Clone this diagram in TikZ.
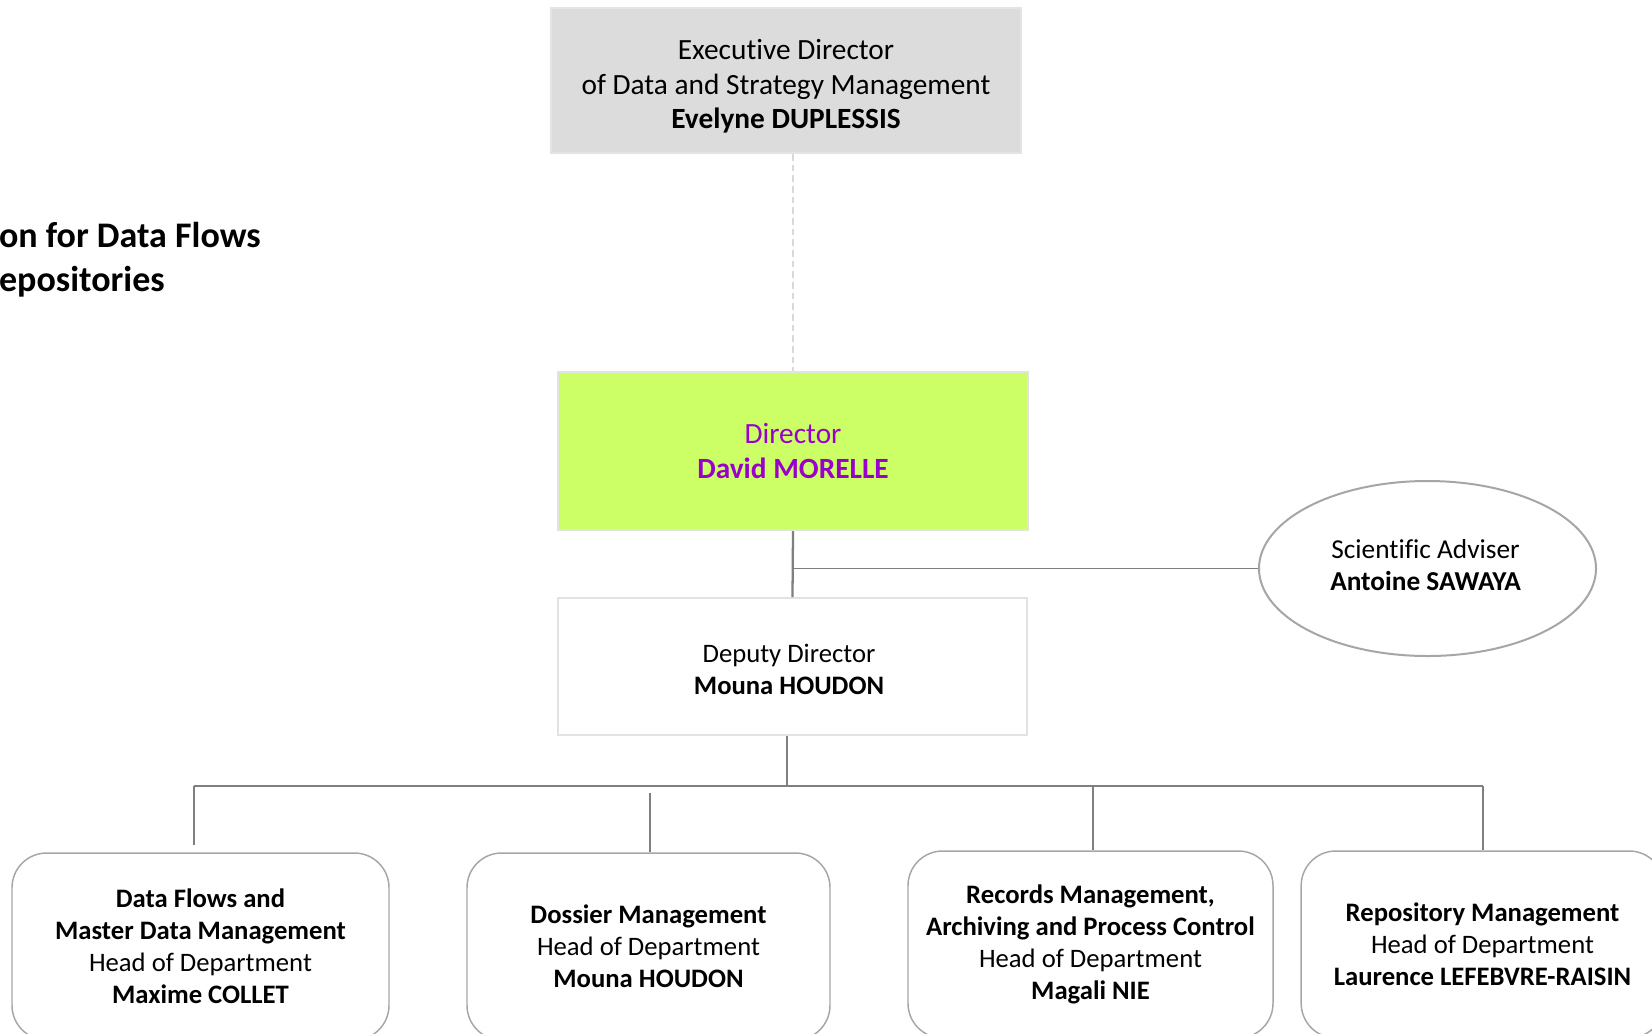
\documentclass[tikz,border=0pt]{standalone}
\usepackage{fontspec}
\setmainfont{Carlito}[Ligatures=NoCommon]
\usetikzlibrary{shapes.geometric}
\definecolor{execfill}{HTML}{DCDCDC}
\definecolor{execline}{HTML}{E4E4E4}
\definecolor{limefill}{HTML}{CCFF66}
\definecolor{boxline}{HTML}{E2E2E2}
\definecolor{dirtext}{HTML}{9900CC}
\definecolor{connline}{HTML}{7F7F7F}
\definecolor{dashgray}{HTML}{D9D9D9}
\definecolor{deptline}{HTML}{A6A6A6}
\tikzset{
  basebox/.style={draw, line width=1.5pt, inner sep=0pt, align=center},
  txtbig/.style={font=\fontsize{22}{26}\selectfont},
  txtmid/.style={font=\fontsize{20}{24}\selectfont},
  plaintext/.style={inner sep=0pt, align=center},
  execbox/.style={basebox, fill=execfill, draw=execline,
    minimum width=352.5pt, minimum height=108.75pt},
  dirbox/.style={basebox, fill=limefill, draw=boxline, font=\fontsize{22}{26.5}\selectfont, text=dirtext,
    minimum width=352.5pt, minimum height=118.5pt},
  depbox/.style={basebox, fill=white, draw=boxline,
    minimum width=351.75pt, minimum height=102.75pt},
  advbox/.style={ellipse, draw=deptline, line width=1.5pt, inner sep=0pt,
    minimum width=252.75pt, minimum height=131.25pt},
  deptbox/.style={draw=deptline, line width=1.1pt, rounded corners=26pt, inner sep=0pt,
    align=center, txtmid, minimum height=140.25pt},
  conn/.style={draw=connline, line width=1.7pt},
  thinconn/.style={draw=connline, line width=1pt},
  dashconn/.style={draw=dashgray, line width=1.2pt, dash pattern=on 5pt off 3pt},
  titletext/.style={font=\fontsize{27}{33}\bfseries\selectfont, inner sep=0pt}
}
\begin{document}
\begin{tikzpicture}[x=0.75pt,y=-0.75pt]
\useasboundingbox (0,0) rectangle (1652,1033);
\clip (0,0) rectangle (1652,1033);
\fill[white] (0,0) rectangle (1652,1033);

% title (cut off at left edge)
\node[titletext, anchor=mid east] (title1) at (261,244) {on for Data Flows};
\node[titletext, anchor=mid east] (title2) at (165,288) {epositories};

% boxes
\node[execbox] (exec) at (786,80.5) {};
\node[plaintext, txtbig] (exectxt) at (786,86.5)
  {Executive Director\\of Data and Strategy Management\\\textbf{Evelyne DUPLESSIS}};
\node[dirbox] (dir) at (793,451) {Director\\\textbf{David MORELLE}};
\node[depbox] (dep) at (792.5,666.5) {};
\node[plaintext, txtmid] (deptxt) at (789,669) {Deputy Director\\\textbf{Mouna HOUDON}};
\node[advbox] (adv) at (1427.5,568.5) {};
\node[plaintext, font=\fontsize{20.5}{23.7}\selectfont] (advtxt) at (1425.5,565)
  {Scientific Adviser\\\textbf{Antoine SAWAYA}};

\node[deptbox, minimum width=282.75pt] (d1) at (200.5,946.5)
  {\textbf{Data Flows and}\\\textbf{Master Data Management}\\Head of Department\\\textbf{Maxime COLLET}};
\node[deptbox, minimum width=272.25pt] (d2) at (648.5,946.5)
  {\textbf{Dossier Management}\\Head of Department\\\textbf{Mouna HOUDON}};
\node[deptbox, minimum width=273.75pt] (d3) at (1090.5,944.5)
  {\textbf{Records Management,}\\\textbf{Archiving and Process Control}\\Head of Department\\\textbf{Magali NIE}};
\node[deptbox, minimum width=272pt] (d4) at (1482.5,944.5)
  {\textbf{Repository Management}\\Head of Department\\\textbf{Laurence LEFEBVRE-RAISIN}};

% connectors
\draw[dashconn] (dir.north |- exec.south) -- (dir.north);
\draw[conn] (dir.south) -- (dep.north);
\draw[thinconn] (dir.south |- adv.west) -- (adv.west);

\coordinate (busmid) at (787,786);
\coordinate (busL) at (194,786);
\coordinate (busR) at (1483,786);
\draw[conn] (dep.south -| busmid) -- (busmid);
\draw[conn] (busL) -- (busR);

\coordinate (b1a) at (194,786);  \coordinate (b1b) at (194,845);
\coordinate (b2a) at (650,793);  \coordinate (b2b) at (650,852);
\coordinate (b3a) at (1093,786); \coordinate (b3b) at (1093,850);
\coordinate (b4a) at (1483,786); \coordinate (b4b) at (1483,850);
\draw[conn] (b1a) -- (b1b);
\draw[conn] (b2a) -- (b2b);
\draw[conn] (b3a) -- (b3b);
\draw[conn] (b4a) -- (b4b);
\end{tikzpicture}
\end{document}
